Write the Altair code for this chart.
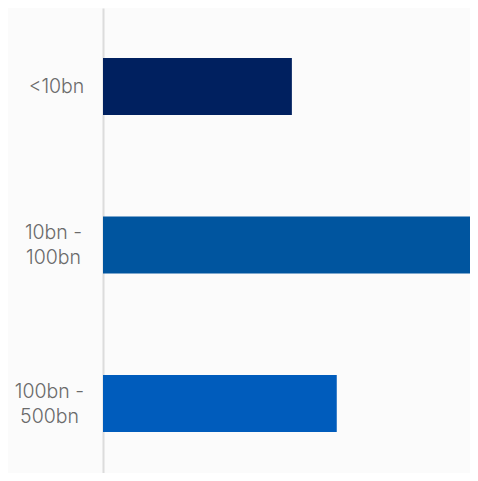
import altair as alt
import pandas as pd

categories = ["<10bn", "10bn - 100bn", "100bn - 500bn"]
values = [20.2, 40.0, 25.0]
colors = ["#00205f", "#00559f", "#005cbc"]

df = pd.DataFrame({"category": categories, "value": values})

label_padding = {
    "condition": [
        {"test": "datum.value == '<10bn'", "value": 47},
        {"test": "datum.value == '10bn - 100bn'", "value": 50},
    ],
    "value": 54,
}
label_offset = {
    "condition": {"test": "datum.value == '<10bn'", "value": 0},
    "value": -12,
}

chart = (
    alt.Chart(df)
    .mark_bar()
    .encode(
        y=alt.Y(
            "category:N",
            sort=categories,
            title=None,
            scale=alt.Scale(paddingInner=0.64, paddingOuter=0.287, align=0.55),
            axis=alt.Axis(
                ticks=False,
                tickSize=0,
                domain=True,
                domainColor="#dcdcdc",
                domainWidth=2,
                labelAlign="center",
                labelBaseline="middle",
                labelPadding=label_padding,
                labelOffset=label_offset,
                labelFont="Inter",
                labelFontWeight=300,
                labelFontSize=19.5,
                labelColor="#6a6a6a",
                labelLineHeight=25,
                labelExpr="split(replace(datum.label, '- ', '-|'), '|')",
                grid=False,
            ),
        ),
        x=alt.X("value:Q", axis=None, scale=alt.Scale(domain=[0, 39.25], nice=False)),
        color=alt.Color(
            "category:N",
            scale=alt.Scale(domain=categories, range=colors),
            legend=None,
        ),
    )
    .properties(
        width=367,
        height=465,
        background="#fbfbfb",
        padding={"left": 95, "top": 0, "right": 0, "bottom": 0},
        autosize=alt.AutoSizeParams(type="none"),
    )
    .configure_view(stroke=None)
)

chart.save("out.html", embed_options={"renderer": "svg", "actions": False})
